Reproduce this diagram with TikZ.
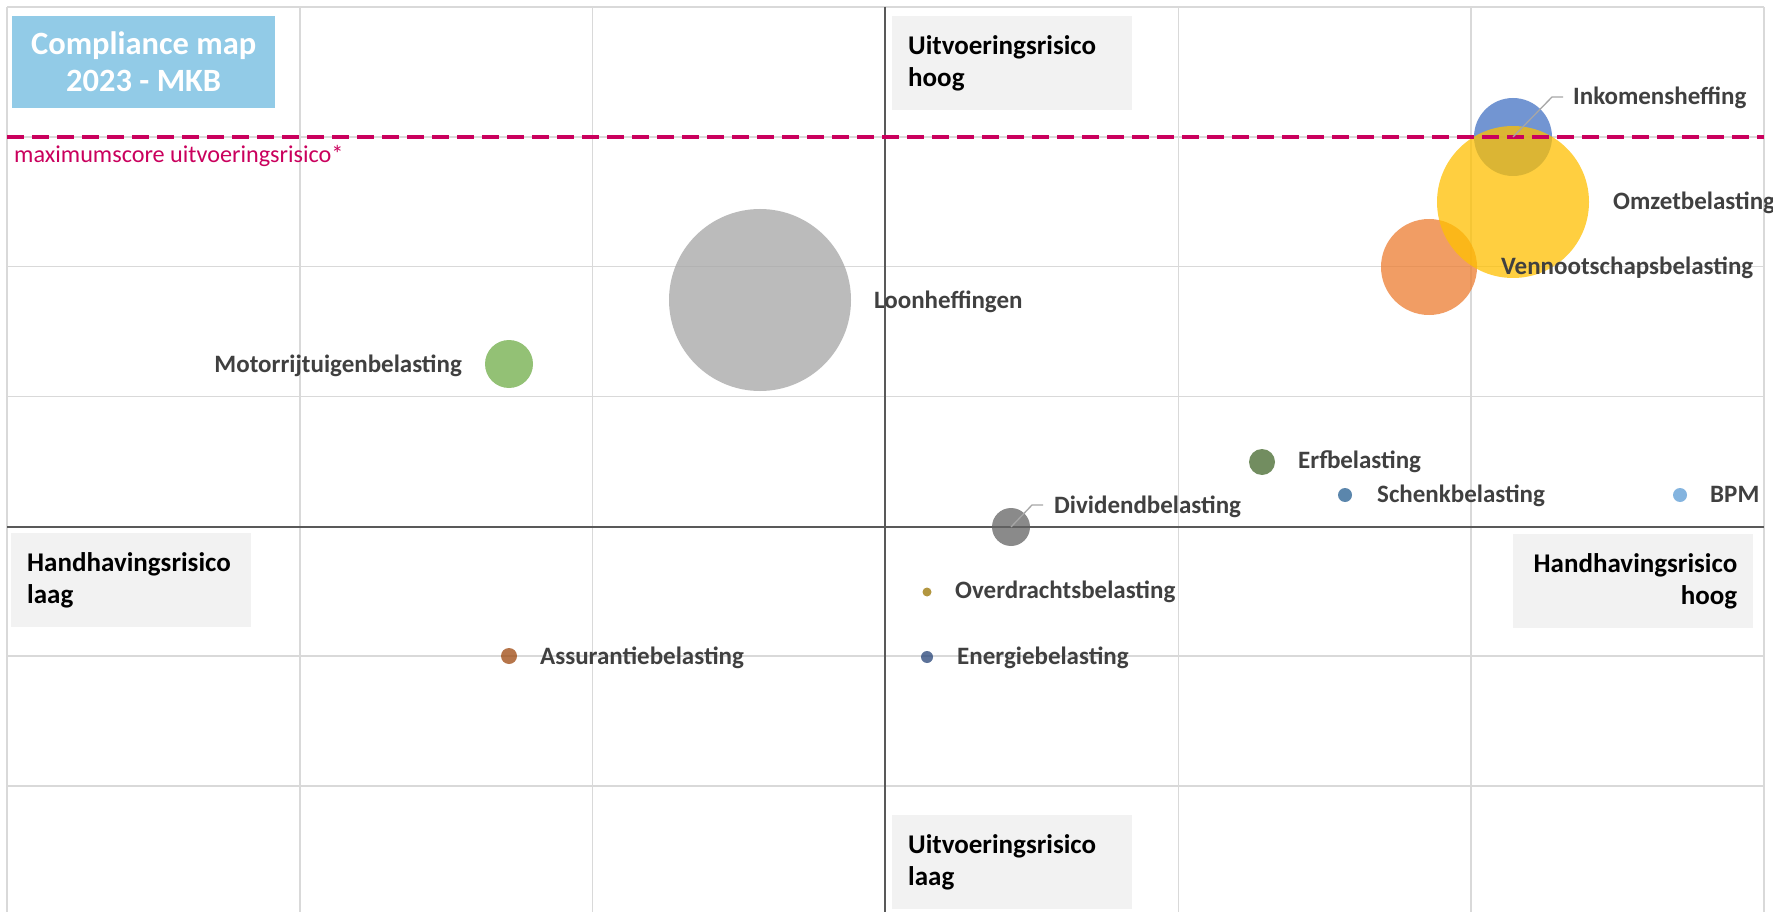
\documentclass[tikz,border=0pt]{standalone}
\usepackage{fontspec}
\setmainfont{Carlito}
\definecolor{gridc}{HTML}{D9D9D9}
\definecolor{axisc}{HTML}{595959}
\definecolor{lblc}{HTML}{404040}
\definecolor{titlec}{HTML}{92CBE7}
\definecolor{boxc}{HTML}{F2F2F2}
\definecolor{maxc}{HTML}{CA005D}
\definecolor{leadc}{HTML}{A6A6A6}
\definecolor{cInk}{HTML}{4472C4}
\definecolor{cOmz}{HTML}{FFC000}
\definecolor{cVpb}{HTML}{ED7D31}
\definecolor{cLoon}{HTML}{A5A5A5}
\definecolor{cMrb}{HTML}{70AD47}
\definecolor{cErf}{HTML}{43682B}
\definecolor{cSchenk}{HTML}{255E91}
\definecolor{cBpm}{HTML}{5B9BD5}
\definecolor{cDiv}{HTML}{636363}
\definecolor{cOvb}{HTML}{997300}
\definecolor{cEnb}{HTML}{264478}
\definecolor{cAss}{HTML}{9E480E}
\begin{document}
\begin{tikzpicture}[x=1pt,y=-1pt,
  gridline/.style={draw=gridc,line width=1.6pt},
  axisline/.style={draw=axisc,line width=1.8pt},
  bubble/.style={circle,inner sep=0pt,fill opacity=0.75,draw=none},
  lbl/.style={text=lblc,font=\fontsize{25}{30}\selectfont\bfseries,inner sep=0pt},
  leader/.style={draw=leadc,line width=1.3pt},
  headbox/.style={fill=boxc,minimum width=240pt,minimum height=94pt,text width=208pt,inner xsep=16pt,inner ysep=0pt,font=\fontsize{27}{32}\selectfont\bfseries,text=black}
]
\useasboundingbox (0,0) rectangle (1773,912);
\fill[white] (0,0) rectangle (1773,912);
% grid
\foreach \i in {0,...,6} {\draw[gridline] ({7+292.83*\i},7) -- ({7+292.83*\i},912);}
\foreach \j in {0,...,6} {\draw[gridline] (7,{7+129.83*\j}) -- (1764,{7+129.83*\j});}
% axes
\draw[axisline] (885,7) -- (885,912);
\draw[axisline] (7,527) -- (1764,527);
% title
\node[fill=titlec,minimum width=263pt,minimum height=92pt,anchor=north west,inner sep=0pt,align=center,text=white,font=\fontsize{32.5}{37}\selectfont\bfseries] (title) at (12,16) {Compliance map\\2023 - MKB};
% heading boxes
\node[headbox,anchor=north west,align=left] (uhoog) at (892,16) {Uitvoeringsrisico\\hoog};
\node[headbox,anchor=north west,align=left] (ulaag) at (892,815) {Uitvoeringsrisico\\laag};
\node[headbox,anchor=north west,align=left] (hlaag) at (11,533) {Handhavingsrisico\\laag};
\node[headbox,anchor=north west,align=right] (hhoog) at (1513,534) {Handhavingsrisico\\hoog};
% bubbles
\node[bubble,fill=cInk,minimum size=78pt] (ink) at (1513,137) {};
\node[bubble,fill=cVpb,minimum size=96pt] (vpb) at (1429,267) {};
\node[bubble,fill=cOmz,minimum size=152pt] (omz) at (1513,202) {};
\node[bubble,fill=cLoon,minimum size=182pt] (loon) at (760,300) {};
\node[bubble,fill=cMrb,minimum size=48pt] (mrb) at (509,364) {};
\node[bubble,fill=cErf,minimum size=26pt] (erf) at (1262,462) {};
\node[bubble,fill=cSchenk,minimum size=14pt] (schenk) at (1345,495) {};
\node[bubble,fill=cBpm,minimum size=14pt] (bpm) at (1680,495) {};
\node[bubble,fill=cDiv,minimum size=38pt] (div) at (1011,527) {};
\node[bubble,fill=cOvb,minimum size=9pt] (ovb) at (927,592) {};
\node[bubble,fill=cEnb,minimum size=12pt] (enb) at (927,657) {};
\node[bubble,fill=cAss,minimum size=16pt] (ass) at (509,656) {};
% maximum line
\coordinate (maxL) at (7,137);
\coordinate (maxR) at (1764,137);
\draw[maxc,line width=3.5pt,dash pattern=on 17pt off 8pt] (maxL) -- (maxR);
\node[anchor=base west,inner sep=0pt,text=maxc,font=\fontsize{24.2}{28}\selectfont] (maxlbl) at (14,163) {maximumscore uitvoeringsrisico*};
% labels
\node[lbl,anchor=base west] (inklbl) at (1573,105) {Inkomensheffing};
\node[lbl,anchor=base west] (omzlbl) at (1613,210) {Omzetbelasting};
\node[lbl,anchor=base west] (vpblbl) at (1501,275) {Vennootschapsbelasting};
\node[lbl,anchor=base west] (loonlbl) at (874,308) {Loonheffingen};
\node[lbl,anchor=base east] (mrblbl) at (462,372) {Motorrijtuigenbelasting};
\node[lbl,anchor=base west] (erflbl) at (1298,468) {Erfbelasting};
\node[lbl,anchor=base west] (schenklbl) at (1377,502) {Schenkbelasting};
\node[lbl,anchor=base west] (bpmlbl) at (1710,502) {BPM};
\node[lbl,anchor=base west] (divlbl) at (1054,513) {Dividendbelasting};
\node[lbl,anchor=base west] (ovblbl) at (955,598) {Overdrachtsbelasting};
\node[lbl,anchor=base west] (enblbl) at (957,664) {Energiebelasting};
\node[lbl,anchor=base west] (asslbl) at (540,664) {Assurantiebelasting};
% leaders
\coordinate (inkbend) at (1552,97);
\coordinate (inkend) at (1563,97);
\draw[leader] (ink.center) -- (inkbend) -- (inkend);
\coordinate (divbend) at (1032,505);
\coordinate (divend) at (1043,505);
\draw[leader] (div.center) -- (divbend) -- (divend);
\end{tikzpicture}
\end{document}
